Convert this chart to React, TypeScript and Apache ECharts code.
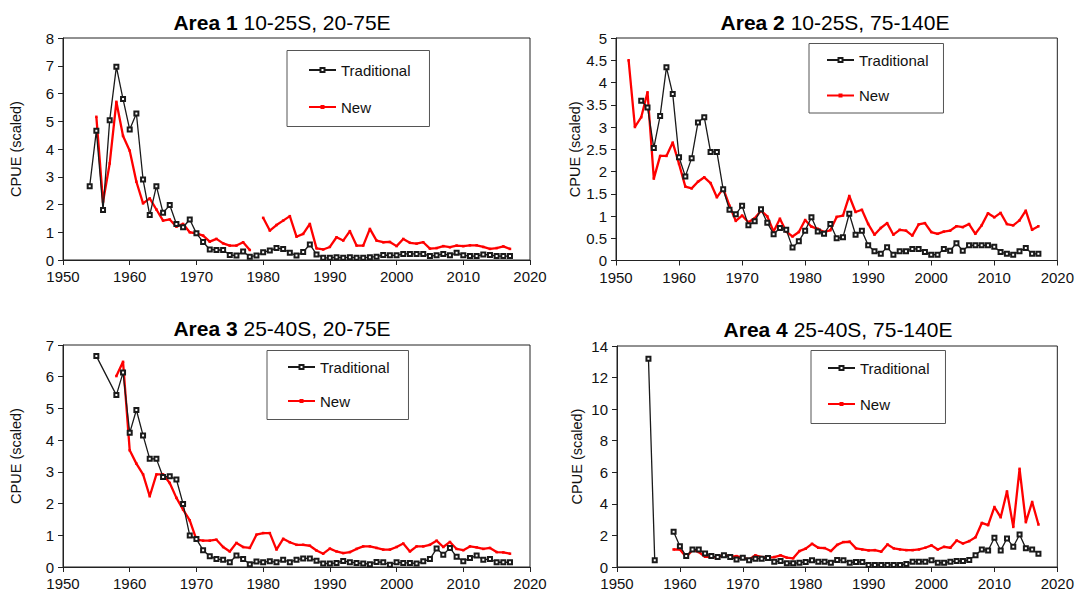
import React, { useEffect, useRef } from "react";
import * as echarts from "echarts";

// ---- Data (CPUE scaled) ----
// Area 1 10-25S, 20-75E
const a1TradStart = 1954;
const a1Trad = [2.66, 4.66, 1.8, 5.04, 6.96, 5.8, 4.7, 5.28, 2.9, 1.62, 2.66, 1.7, 1.98, 1.3, 1.18, 1.46, 0.96, 0.65, 0.38, 0.36, 0.36, 0.18, 0.16, 0.31, 0.12, 0.16, 0.28, 0.34, 0.43, 0.4, 0.26, 0.16, 0.29, 0.56, 0.2, 0.08, 0.08, 0.1, 0.08, 0.1, 0.08, 0.08, 0.1, 0.12, 0.18, 0.17, 0.17, 0.22, 0.22, 0.22, 0.22, 0.14, 0.17, 0.22, 0.17, 0.26, 0.17, 0.14, 0.14, 0.2, 0.18, 0.14, 0.14, 0.14];
const a1NewStart = 1955;
const a1New = [5.16, 2.1, 3.48, 5.7, 4.47, 3.94, 2.82, 2.04, 2.22, 1.82, 1.42, 1.46, 1.2, 1.3, 1.0, 0.96, 0.88, 0.66, 0.76, 0.6, 0.52, 0.52, 0.64, 0.36, null, 1.52, 1.06, 1.26, 1.42, 1.58, 0.84, 0.94, 1.3, 0.42, 0.38, 0.47, 0.82, 0.7, 1.04, 0.52, 0.52, 1.12, 0.7, 0.64, 0.65, 0.5, 0.76, 0.62, 0.59, 0.64, 0.41, 0.43, 0.5, 0.46, 0.52, 0.5, 0.53, 0.53, 0.47, 0.4, 0.43, 0.49, 0.4];

// Area 2 10-25S, 75-140E
const a2TradStart = 1954;
const a2Trad = [3.59, 3.44, 2.53, 3.25, 4.34, 3.74, 2.32, 1.89, 2.3, 3.1, 3.22, 2.44, 2.44, 1.6, 1.14, 1.04, 1.23, 0.79, 0.88, 1.15, 0.85, 0.59, 0.73, 0.69, 0.29, 0.43, 0.67, 0.97, 0.65, 0.6, 0.82, 0.5, 0.52, 1.05, 0.58, 0.67, 0.34, 0.21, 0.15, 0.3, 0.13, 0.21, 0.21, 0.26, 0.26, 0.19, 0.13, 0.13, 0.26, 0.22, 0.39, 0.22, 0.34, 0.34, 0.34, 0.34, 0.31, 0.19, 0.15, 0.13, 0.21, 0.28, 0.15, 0.15];
const a2NewStart = 1952;
const a2New = [4.5, 3.0, 3.22, 3.78, 1.84, 2.35, 2.35, 2.65, 2.17, 1.66, 1.62, 1.77, 1.87, 1.74, 1.42, 1.62, 1.23, 0.89, 1.01, 0.86, 0.95, 1.12, 0.99, 0.65, 0.94, 0.65, 0.54, 0.64, 0.91, 0.76, 0.71, 0.64, 0.68, 0.98, 1.01, 1.45, 1.09, 1.14, 0.82, 0.58, 0.73, 0.84, 0.58, 0.69, 0.67, 0.56, 0.81, 0.84, 0.64, 0.6, 0.65, 0.67, 0.77, 0.75, 0.82, 0.6, 0.79, 1.06, 0.97, 1.07, 0.82, 0.79, 0.9, 1.12, 0.69, 0.77];

// Area 3 25-40S, 20-75E
const a3TradStart = 1955;
const a3Trad = [6.65, null, null, 5.42, 6.13, 4.23, 4.95, 4.15, 3.41, 3.41, 2.84, 2.86, 2.76, 1.99, 0.99, 0.88, 0.53, 0.34, 0.25, 0.23, 0.15, 0.36, 0.25, 0.09, 0.17, 0.15, 0.18, 0.15, 0.23, 0.15, 0.23, 0.27, 0.27, 0.2, 0.11, 0.11, 0.13, 0.19, 0.15, 0.13, 0.11, 0.09, 0.16, 0.15, 0.07, 0.15, 0.13, 0.13, 0.11, 0.18, 0.25, 0.58, 0.39, 0.6, 0.32, 0.18, 0.28, 0.36, 0.23, 0.25, 0.15, 0.15, 0.15];
const a3NewStart = 1958;
const a3New = [6.02, 6.47, 3.68, 3.26, 2.92, 2.23, 2.92, 2.92, 2.65, 2.18, 1.81, 1.47, 0.86, 0.83, 0.83, 0.86, 0.63, 0.49, 0.76, 0.63, 0.6, 1.02, 1.07, 1.07, 0.55, 0.89, 0.78, 0.7, 0.7, 0.67, 0.52, 0.42, 0.58, 0.49, 0.44, 0.47, 0.57, 0.65, 0.65, 0.6, 0.55, 0.55, 0.63, 0.74, 0.49, 0.65, 0.65, 0.7, 0.83, 0.63, 0.79, 0.57, 0.53, 0.65, 0.62, 0.57, 0.6, 0.47, 0.46, 0.42];

// Area 4 25-40S, 75-140E
const a4TradStart = 1955;
const a4Trad = [13.2, 0.42, null, null, 2.23, 1.32, 0.69, 1.11, 1.11, 0.86, 0.69, 0.63, 0.74, 0.63, 0.48, 0.59, 0.42, 0.53, 0.53, 0.57, 0.34, 0.38, 0.23, 0.23, 0.27, 0.32, 0.42, 0.34, 0.34, 0.27, 0.45, 0.42, 0.27, 0.32, 0.32, 0.13, 0.13, 0.13, 0.13, 0.13, 0.13, 0.19, 0.34, 0.34, 0.34, 0.42, 0.27, 0.27, 0.34, 0.38, 0.38, 0.44, 0.74, 1.11, 1.05, 1.85, 1.05, 1.81, 1.28, 2.06, 1.18, 1.11, 0.84];
const a4NewStart = 1959;
const a4New = [1.11, 1.11, 0.63, 1.07, 0.95, 0.65, 0.65, 0.59, 0.8, 0.65, 0.69, 0.59, 0.48, 0.74, 0.63, 0.59, 0.63, 0.74, 0.59, 0.55, 1.01, 1.16, 1.47, 1.22, 1.2, 1.01, 1.4, 1.58, 1.6, 1.18, 1.11, 1.05, 1.07, 0.97, 1.43, 1.18, 1.11, 1.07, 1.07, 1.11, 1.22, 1.37, 1.11, 1.28, 1.22, 1.68, 1.49, 1.64, 1.89, 2.79, 2.65, 3.8, 3.15, 4.79, 2.54, 6.22, 2.84, 4.12, 2.69];

const titlesBold = ["Area 1", "Area 2", "Area 3", "Area 4"];
const titlesRest = ["10-25S, 20-75E", "10-25S, 75-140E", "25-40S, 20-75E", "25-40S, 75-140E"];
const yMax = [8, 5, 7, 14];
const yInterval = [1, 0.5, 1, 2];
const seriesNames = ["Traditional", "New"];
const yAxisName = "CPUE (scaled)";

const FONT = "'Liberation Sans', Arial, sans-serif";

function toPairs(start: number, vals: (number | null)[]) {
  return vals.map((v, i) => [start + i, v === null ? "-" : v]);
}

export default function App() {
  const ref = useRef<HTMLDivElement>(null);

  useEffect(() => {
    if (!ref.current) return;
    const chart = echarts.init(ref.current, undefined, { renderer: "svg" });

    const grids = [
      { left: 63, top: 38, width: 467, height: 222 },
      { left: 616, top: 38, width: 446, height: 222.5 },
      { left: 63, top: 345, width: 467, height: 222.5 },
      { left: 617, top: 346, width: 445, height: 222 },
    ];
    const titlePos = [
      [282, 22.5],
      [835, 22.5],
      [282, 328.5],
      [838, 329],
    ];
    // padding: [top, right, bottom, left]
    const legendPos = [
      { left: 287, top: 50.5, pad: [12, 19, 12, 21], gap: 22 },
      { left: 809, top: 43.5, pad: [9, 15, 10, 17], gap: 20.5 },
      { left: 267, top: 350.5, pad: [9, 19, 11, 20], gap: 19 },
      { left: 811, top: 350.5, pad: [10, 16, 12, 16], gap: 21 },
    ];
    const nameGaps = [40, 32, 40, 33];

    const tradData = [
      toPairs(a1TradStart, a1Trad),
      toPairs(a2TradStart, a2Trad),
      toPairs(a3TradStart, a3Trad),
      toPairs(a4TradStart, a4Trad),
    ];
    const newData = [
      toPairs(a1NewStart, a1New),
      toPairs(a2NewStart, a2New),
      toPairs(a3NewStart, a3New),
      toPairs(a4NewStart, a4New),
    ];
    const tradConnect = [false, false, true, false];

    const series: any[] = [];
    for (let i = 0; i < 4; i++) {
      series.push({
        name: seriesNames[0],
        type: "line",
        xAxisIndex: i,
        yAxisIndex: i,
        data: tradData[i],
        connectNulls: tradConnect[i],
        symbol: "emptyRect",
        symbolSize: 4,
        showAllSymbol: true,
        color: "#1a1a1a",
        lineStyle: { color: "#1a1a1a", width: 1.3 },
        itemStyle: { color: "#1a1a1a", borderWidth: 1 },
        z: 3,
      });
      series.push({
        name: seriesNames[1],
        type: "line",
        xAxisIndex: i,
        yAxisIndex: i,
        data: newData[i],
        connectNulls: false,
        symbol: "rect",
        symbolSize: 2.5,
        showAllSymbol: true,
        color: "#ff0000",
        lineStyle: { color: "#ff0000", width: 2.3 },
        itemStyle: { color: "#ff0000" },
        z: 2,
      });
    }

    const option: any = {
      animation: false,
      backgroundColor: "#ffffff",
      textStyle: { fontFamily: FONT },
      grid: grids.map((g) => ({
        ...g,
        show: true,
        borderColor: "#222",
        borderWidth: 1,
        backgroundColor: "transparent",
      })),
      xAxis: grids.map((_, i) => ({
        type: "value",
        gridIndex: i,
        min: 1950,
        max: 2020,
        interval: 10,
        axisLine: { show: true, onZero: false, lineStyle: { color: "#222", width: 1 } },
        axisTick: { show: true, inside: false, length: 5, lineStyle: { color: "#222" } },
        axisLabel: {
          color: "#111",
          fontSize: 15,
          fontFamily: FONT,
          margin: 9,
          formatter: (v: number) => String(v),
        },
        splitLine: { show: false },
      })),
      yAxis: grids.map((_, i) => ({
        type: "value",
        gridIndex: i,
        min: 0,
        max: yMax[i],
        interval: yInterval[i],
        name: yAxisName,
        nameLocation: "middle",
        nameGap: nameGaps[i],
        nameRotate: 90,
        nameTextStyle: { color: "#111", fontSize: 14.5, fontFamily: FONT },
        axisLine: { show: true, lineStyle: { color: "#222", width: 1 } },
        axisTick: { show: true, inside: false, length: 5, lineStyle: { color: "#222" } },
        axisLabel: { color: "#111", fontSize: 15, fontFamily: FONT, margin: 9 },
        splitLine: { show: false },
      })),
      legend: legendPos.map((l) => ({
        left: l.left,
        top: l.top,
        orient: "vertical",
        data: seriesNames,
        borderColor: "#555",
        borderWidth: 1,
        backgroundColor: "#ffffff",
        padding: l.pad,
        itemGap: l.gap,
        itemWidth: 27,
        itemHeight: 5,
        selectedMode: false,
        textStyle: { color: "#111", fontSize: 15, fontFamily: FONT },
      })),
      graphic: titlePos.map((p, i) => ({
        type: "text",
        x: p[0],
        y: p[1],
        silent: true,
        style: {
          text: "{b|" + titlesBold[i] + "} " + titlesRest[i],
          align: "center",
          verticalAlign: "middle",
          fill: "#000",
          font: "21px " + FONT,
          rich: {
            b: { fontWeight: "bold", fontSize: 21, fontFamily: FONT, fill: "#000" },
          },
        },
      })),
      series,
    };

    chart.setOption(option);
    return () => chart.dispose();
  }, []);

  return (
    <div
      ref={ref}
      style={{ position: "fixed", left: 0, top: 0, width: 1077, height: 591, background: "#fff" }}
    />
  );
}
